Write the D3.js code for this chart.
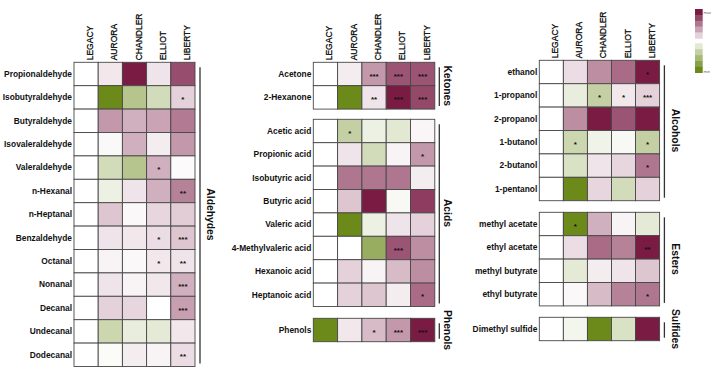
<!DOCTYPE html>
<html>
<head>
<meta charset="utf-8">
<script src="https://cdn.jsdelivr.net/npm/d3@7"></script>
<style>
  html, body { margin: 0; padding: 0; background: #ffffff; }
  svg { display: block; }
  text { font-family: "Liberation Sans", Arial, Helvetica, sans-serif; }
</style>
</head>
<body>
<svg id="chart" width="718" height="374"></svg>
<script>
// ---------------- DATA ----------------
const columns = ["LEGACY", "AURORA", "CHANDLER", "ELLIOT", "LIBERTY"];

// values: -1 (min, green) .. 0 (white) .. 1 (max, magenta)
const aldehydes = ["Propionaldehyde", "Isobutyraldehyde", "Butyraldehyde", "Isovaleraldehyde", "Valeraldehyde",
  "n-Hexanal", "n-Heptanal", "Benzaldehyde", "Octanal", "Nonanal", "Decanal", "Undecanal", "Dodecanal"];
const aldehydeValues = [
  [0, 0.10, 1.00, 0.12, 0.78],
  [0, -1.00, -0.50, -0.30, 0.20],
  [0, 0.45, 0.35, 0.40, 0.58],
  [0, 0.03, 0.35, 0.08, 0.45],
  [0, -0.30, -0.50, 0.35, 0.02],
  [0, -0.12, 0.12, 0.35, 0.55],
  [0, 0.25, 0.03, 0.18, 0.22],
  [0, 0.12, 0.10, 0.15, 0.25],
  [0, 0.05, 0.03, 0.10, 0.12],
  [0, 0.12, 0.05, 0.10, 0.35],
  [0, 0.20, 0.18, 0.00, 0.42],
  [0, -0.35, -0.15, -0.18, 0.10],
  [0, -0.03, 0.08, 0.05, 0.15]
];
const aldehydeStars = [
  ["", "", "", "", ""],
  ["", "", "", "", "*"],
  ["", "", "", "", ""],
  ["", "", "", "", ""],
  ["", "", "", "*", ""],
  ["", "", "", "", "**"],
  ["", "", "", "", ""],
  ["", "", "", "*", "***"],
  ["", "", "", "*", "**"],
  ["", "", "", "", "***"],
  ["", "", "", "", "***"],
  ["", "", "", "", ""],
  ["", "", "", "", "**"]
];

const ketones = ["Acetone", "2-Hexanone"];
const ketoneValues = [
  [0, 0.08, 0.45, 0.75, 0.75],
  [0, -1.00, 0.12, 1.00, 0.80]
];
const ketoneStars = [
  ["", "", "***", "***", "***"],
  ["", "", "**", "***", "***"]
];

const acids = ["Acetic acid", "Propionic acid", "Isobutyric acid", "Butyric acid", "Valeric acid",
  "4-Methylvaleric acid", "Hexanoic acid", "Heptanoic acid"];
const acidValues = [
  [0, -0.40, -0.12, -0.20, 0.04],
  [0, 0.12, -0.30, 0.05, 0.45],
  [0, 0.60, 0.60, 0.60, 0.08],
  [0, 0.25, 1.00, -0.05, 0.85],
  [0, -1.00, -0.12, 0.12, 0.20],
  [0, 0.00, -0.70, 0.75, 0.50],
  [0, 0.20, 0.05, 0.30, 0.50],
  [0, 0.20, 0.25, 0.08, 0.65]
];
const acidStars = [
  ["", "*", "", "", ""],
  ["", "", "", "", "*"],
  ["", "", "", "", ""],
  ["", "", "", "", ""],
  ["", "", "", "", ""],
  ["", "", "", "***", ""],
  ["", "", "", "", ""],
  ["", "", "", "", "*"]
];

const phenols = ["Phenols"];
const phenolValues = [[-1.00, 0.10, 0.30, 0.45, 1.00]];
const phenolStars = [["", "", "*", "***", "***"]];

const alcohols = ["ethanol", "1-propanol", "2-propanol", "1-butanol", "2-butanol", "1-pentanol"];
const alcoholValues = [
  [0, 0.15, 0.50, 0.65, 1.00],
  [0, -0.15, -0.40, 0.10, 0.20],
  [0, 0.50, 1.00, 0.75, 1.00],
  [0, -0.35, -0.10, -0.05, -0.40],
  [0, -0.25, 0.12, 0.18, 0.60],
  [0, -1.00, 0.18, -0.30, 0.20]
];
const alcoholStars = [
  ["", "", "", "", "*"],
  ["", "", "*", "*", "***"],
  ["", "", "", "", ""],
  ["", "*", "", "", "*"],
  ["", "", "", "", "*"],
  ["", "", "", "", ""]
];

const esters = ["methyl acetate", "ethyl acetate", "methyl butyrate", "ethyl butyrate"];
const esterValues = [
  [0, -1.00, 0.35, 0.05, -0.18],
  [0, 0.15, 0.65, 0.55, 1.00],
  [0, -0.18, 0.08, 0.12, 0.25],
  [0, 0.03, 0.30, 0.55, 0.60]
];
const esterStars = [
  ["", "*", "", "", ""],
  ["", "", "", "", "**"],
  ["", "", "", "", ""],
  ["", "", "", "", "*"]
];

const sulfides = ["Dimethyl sulfide"];
const sulfideValues = [[0, -0.08, -1.00, -0.25, 1.00]];
const sulfideStars = [["", "", "", "", ""]];

const legendMaxSteps = [1.0, 0.8, 0.6, 0.4, 0.2];
const legendMinSteps = [-0.2, -0.4, -0.6, -0.8, -1.0];
const legendLabels = ["max", "min"];

// ---------------- LAYOUT ----------------
const rowH = 23.4;
const panels = [
  { x: 74, w: 121, lineDx: 5, labelDx: 6.5, groups: [
    { name: "Aldehydes", items: aldehydes, values: aldehydeValues, stars: aldehydeStars, top: 62.3 }
  ]},
  { x: 313.3, w: 121.5, lineDx: 4.5, labelDx: 5, groups: [
    { name: "Ketones", items: ketones, values: ketoneValues, stars: ketoneStars, top: 62.3 },
    { name: "Acids", items: acids, values: acidValues, stars: acidStars, top: 119.3 },
    { name: "Phenols", items: phenols, values: phenolValues, stars: phenolStars, top: 318.3 }
  ]},
  { x: 539.3, w: 120.3, lineDx: 4.8, labelDx: 7.5, groups: [
    { name: "Alcohols", items: alcohols, values: alcoholValues, stars: alcoholStars, top: 60.3 },
    { name: "Esters", items: esters, values: esterValues, stars: esterStars, top: 212.3 },
    { name: "Sulfides", items: sulfides, values: sulfideValues, stars: sulfideStars, top: 317.3 }
  ]}
];

const color = d3.scaleLinear()
  .domain([-1, 0, 1])
  .range(["#6c8a1a", "#ffffff", "#7a1b44"])
  .interpolate(d3.interpolateRgb)
  .clamp(true);

const svg = d3.select("#chart");

panels.forEach(p => {
  const x = d3.scaleBand().domain(columns).range([p.x, p.x + p.w]);

  // column headers via axisTop, rotated (tick groups already sit at band centres)
  const top0 = p.groups[0].top;
  const hdr = svg.append("g")
    .attr("transform", `translate(0,${top0})`)
    .call(d3.axisTop(x).tickSize(0).tickPadding(0));
  hdr.select(".domain").remove();
  hdr.selectAll("text")
    .attr("transform", "rotate(-90)")
    .attr("x", 2)
    .attr("y", 7)
    .attr("dy", null)
    .attr("text-anchor", "start")
    .style("font-family", "'Liberation Sans', Arial, sans-serif")
    .style("font-size", "8.5px")
    .style("fill", "#000")
    .style("stroke", "#000")
    .style("stroke-width", "0.25px");

  p.groups.forEach(g => {
    const bottom = g.top + g.items.length * rowH;
    const y = d3.scaleBand().domain(g.items).range([g.top, bottom]);

    const cells = [];
    g.items.forEach((item, i) => {
      columns.forEach((c, j) => {
        cells.push({ item, col: c, v: g.values[i][j], s: g.stars[i][j] });
      });
    });

    svg.append("g").selectAll("rect")
      .data(cells)
      .join("rect")
      .attr("x", d => x(d.col))
      .attr("y", d => y(d.item))
      .attr("width", x.bandwidth())
      .attr("height", y.bandwidth())
      .attr("fill", d => color(d.v))
      .attr("stroke", "#474747")
      .attr("stroke-width", 0.9);

    svg.append("g").selectAll("text")
      .data(cells.filter(d => d.s))
      .join("text")
      .attr("x", d => x(d.col) + x.bandwidth() / 2)
      .attr("y", d => y(d.item) + y.bandwidth() / 2 + 4.6)
      .attr("text-anchor", "middle")
      .style("font-size", "8px")
      .style("font-weight", "bold")
      .style("fill", "#111")
      .text(d => d.s);

    // row labels via axisLeft
    const ax = svg.append("g")
      .attr("transform", `translate(${p.x},0)`)
      .call(d3.axisLeft(y).tickSize(0).tickPadding(2));
    ax.select(".domain").remove();
    ax.selectAll("text")
      .style("font-family", "'Liberation Sans', Arial, sans-serif")
      .style("font-size", "8.4px")
      .style("font-weight", "bold")
      .style("fill", "#111");

    // bracket line
    const lx = p.x + p.w + p.lineDx;
    svg.append("line")
      .attr("x1", lx).attr("x2", lx)
      .attr("y1", g.top + 5).attr("y2", bottom - 3)
      .attr("stroke", "#333")
      .attr("stroke-width", 1.3);

    // group label
    const cy = (g.top + bottom) / 2;
    svg.append("text")
      .attr("transform", `translate(${lx + p.labelDx},${cy}) rotate(90)`)
      .attr("text-anchor", "middle")
      .style("font-size", "10.3px")
      .style("font-weight", "bold")
      .style("fill", "#111")
      .text(g.name);
  });
});

// ---------------- LEGEND ----------------
const lg = svg.append("g");
const stepH = 5.9, lgX = 695, lgW = 7.7;
const ly1 = d3.scaleBand().domain(d3.range(legendMaxSteps.length)).range([9, 9 + legendMaxSteps.length * stepH]);
const ly2 = d3.scaleBand().domain(d3.range(legendMinSteps.length)).range([43.3, 43.3 + legendMinSteps.length * stepH]);
lg.selectAll("rect.mx").data(legendMaxSteps).join("rect").attr("class", "mx")
  .attr("x", lgX).attr("y", (d, i) => ly1(i)).attr("width", lgW).attr("height", ly1.bandwidth() + 0.2)
  .attr("fill", d => color(d));
lg.selectAll("rect.mn").data(legendMinSteps).join("rect").attr("class", "mn")
  .attr("x", lgX).attr("y", (d, i) => ly2(i)).attr("width", lgW).attr("height", ly2.bandwidth() + 0.2)
  .attr("fill", d => color(d));
lg.append("text").attr("x", lgX + lgW + 0.8).attr("y", 14)
  .style("font-size", "4px").style("fill", "#666").text(legendLabels[0]);
lg.append("text").attr("x", lgX + lgW + 0.8).attr("y", 72.5)
  .style("font-size", "4px").style("fill", "#666").text(legendLabels[1]);
</script>
</body>
</html>
